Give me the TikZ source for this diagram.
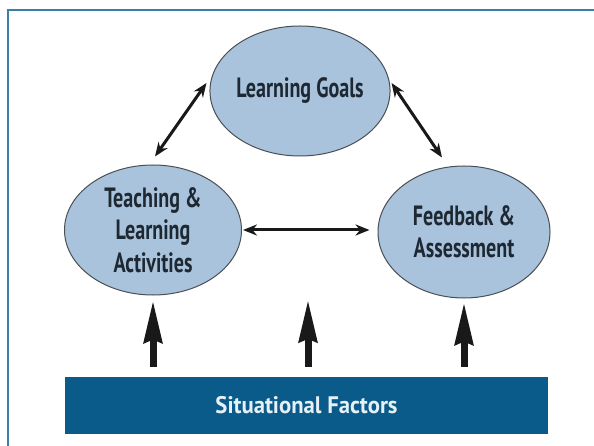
\documentclass[tikz,border=0pt]{standalone}
\usepackage{fontspec}
\usetikzlibrary{shapes.geometric,arrows.meta,calc}
\newfontfamily\condfont{PT Sans Bold}[FakeStretch=0.72]
\newfontfamily\barfont{PT Sans Bold}[FakeStretch=0.95]
\definecolor{ellfill}{HTML}{A8C3DB}
\definecolor{elldraw}{HTML}{4A4F55}
\definecolor{barblue}{HTML}{0B5B8A}
\definecolor{framecol}{HTML}{3D7DAA}
\definecolor{txtdark}{HTML}{1E2833}
\definecolor{bartxt}{HTML}{E6F0F7}
\tikzset{
  bubble/.style={ellipse, draw=elldraw, line width=1bp, fill=ellfill, inner sep=0pt,
    align=center, text=txtdark, font=\condfont\fontsize{28}{32.5}\selectfont},
  dbl/.style={{Stealth[length=14bp,width=11bp]}-{Stealth[length=14bp,width=11bp]}, line width=3bp, draw=black!90},
  bigarrow/.style={-{Stealth[length=42bp,width=18bp,inset=3bp]}, line width=7bp, draw=black!90},
}
\begin{document}
\begin{tikzpicture}[x=1bp,y=-1bp]
\useasboundingbox (0,0) rectangle (594,446);
\fill[white] (0,0) rectangle (594,446);
\draw[framecol, line width=2bp] (8,446) -- (8,10) -- (594,10);

\node[bubble, minimum width=174bp, minimum height=130bp] (lg) at (300,91) {Learning Goals};
\node[bubble, minimum width=177bp, minimum height=130bp] (tla) at (153,230) {Teaching \&\\Learning\\Activities};
\node[bubble, minimum width=172bp, minimum height=132bp] (fa) at (464,232) {Feedback \&\\Assessment};

\node[fill=barblue, minimum width=483bp, minimum height=57bp, inner sep=0pt, text=bartxt,
  font=\barfont\fontsize{24}{26}\selectfont] (sf) at (306.5,405.5) {Situational Factors};

\draw[dbl] ($(tla.north)+(2,-8)$) -- ($(lg.west)+(-3,-8)$);
\draw[dbl] ($(lg.east)+(1,-8)$) -- ($(fa.north)+(-22,-8)$);
\draw[dbl] ($(tla.east)+(1,0)$) -- ($(fa.west)+(-8,-2)$);

\draw[bigarrow, shorten <=10bp, shorten >=5bp] (tla.south |- sf.north) -- (tla.south);
\draw[bigarrow] ($(sf.north)+(1.5,-10)$) -- ($(sf.north)+(1.5,-77)$);
\draw[bigarrow, shorten <=10bp, shorten >=4bp] (fa.south |- sf.north) -- (fa.south);
\end{tikzpicture}
\end{document}
